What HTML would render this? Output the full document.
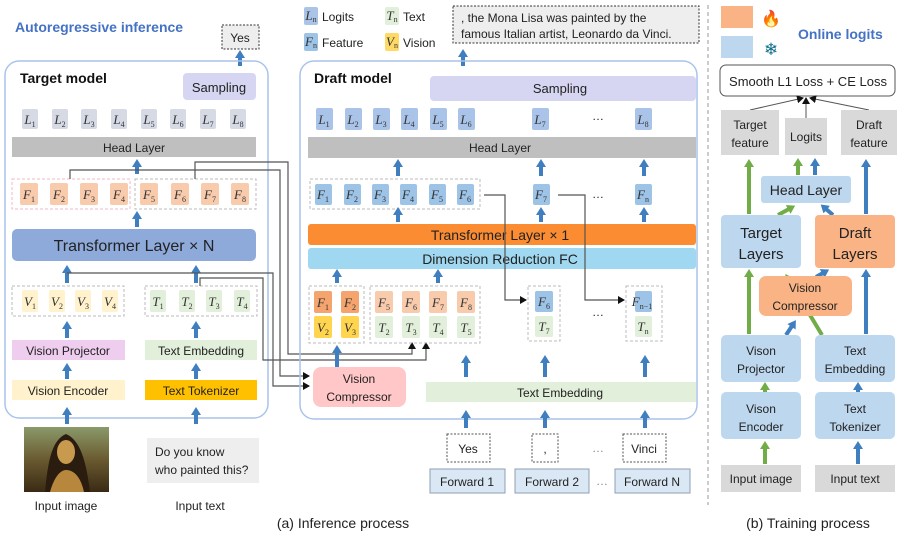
<!DOCTYPE html>
<html><head><meta charset="utf-8"><style>
html,body{margin:0;padding:0;background:#fff}
svg{display:block}
text{font-family:"Liberation Sans",sans-serif;font-size:12px;fill:#222}
.m{font-family:"Liberation Serif",serif;font-style:italic;font-size:13px;text-anchor:middle;fill:#333}
.s{font-style:normal;font-size:8px}
.c{text-anchor:middle}
.ab{stroke:#3f7fc0;stroke-width:4;fill:none}
.ln{stroke:#555;stroke-width:1.2;fill:none}
.dg{fill:none;stroke:#bbb;stroke-dasharray:3,2}
</style></head><body>
<svg width="904" height="538" viewBox="0 0 904 538" xmlns="http://www.w3.org/2000/svg">
<defs>
<marker id="a" markerWidth="12" markerHeight="10" refX="1" refY="5" orient="auto" markerUnits="userSpaceOnUse"><path d="M0,0 L8,5 L0,10z" fill="#3f7fc0"/></marker>
<marker id="g" markerWidth="12" markerHeight="10" refX="1" refY="5" orient="auto" markerUnits="userSpaceOnUse"><path d="M0,0 L8,5 L0,10z" fill="#70ad47"/></marker>
<marker id="k" markerWidth="8" markerHeight="8" refX="6" refY="4" orient="auto" markerUnits="userSpaceOnUse"><path d="M0,0 L7,4 L0,8z" fill="#111"/></marker>
<linearGradient id="ml" x1="0" y1="0" x2="0" y2="1"><stop offset="0" stop-color="#8a9a6a"/><stop offset=".5" stop-color="#6a5a30"/><stop offset="1" stop-color="#3a2a14"/></linearGradient>
</defs>

<!-- ===== LEFT: target model ===== -->
<text x="15" y="32" style="font-size:14px;font-weight:bold;fill:#4472c4">Autoregressive inference</text>
<rect x="222" y="25" width="37" height="24" fill="#eee" stroke="#333" stroke-dasharray="2,1.5"/>
<text x="240" y="42" class="c">Yes</text>
<line x1="240" y1="66" x2="240" y2="57" class="ab" marker-end="url(#a)"/>
<rect x="5" y="61" width="263" height="357" rx="14" fill="none" stroke="#a9c4eb" stroke-width="1.5"/>
<text x="20" y="83" style="font-size:14px;font-weight:bold;fill:#111">Target model</text>
<rect x="183" y="73" width="73" height="27" rx="4" fill="#d6d6f3"/>
<text x="219" y="92" class="c" style="font-size:13px">Sampling</text>
<g fill="#d5dae5">
<rect x="22" y="109" width="16" height="20" rx="2"/><rect x="52" y="109" width="16" height="20" rx="2"/><rect x="81" y="109" width="16" height="20" rx="2"/><rect x="111" y="109" width="16" height="20" rx="2"/><rect x="141" y="109" width="16" height="20" rx="2"/><rect x="170" y="109" width="16" height="20" rx="2"/><rect x="200" y="109" width="16" height="20" rx="2"/><rect x="230" y="109" width="16" height="20" rx="2"/>
</g>
<text x="30" y="124" class="m">L<tspan class="s" dy="3">1</tspan></text><text x="60" y="124" class="m">L<tspan class="s" dy="3">2</tspan></text><text x="89" y="124" class="m">L<tspan class="s" dy="3">3</tspan></text><text x="119" y="124" class="m">L<tspan class="s" dy="3">4</tspan></text><text x="149" y="124" class="m">L<tspan class="s" dy="3">5</tspan></text><text x="178" y="124" class="m">L<tspan class="s" dy="3">6</tspan></text><text x="208" y="124" class="m">L<tspan class="s" dy="3">7</tspan></text><text x="238" y="124" class="m">L<tspan class="s" dy="3">8</tspan></text>
<rect x="12" y="137" width="244" height="20" fill="#bfbfbf"/>
<text x="134" y="152" class="c">Head Layer</text>
<line x1="137" y1="174" x2="137" y2="166" class="ab" marker-end="url(#a)"/>
<rect x="12" y="179" width="118" height="30" fill="none" stroke="#f2b8c6" stroke-dasharray="3,2"/>
<rect x="135" y="179" width="121" height="30" class="dg"/>
<g fill="#f8cbad">
<rect x="20" y="183" width="18" height="22" rx="2"/><rect x="50" y="183" width="18" height="22" rx="2"/><rect x="80" y="183" width="18" height="22" rx="2"/><rect x="110" y="183" width="18" height="22" rx="2"/><rect x="140" y="183" width="18" height="22" rx="2"/><rect x="171" y="183" width="18" height="22" rx="2"/><rect x="201" y="183" width="18" height="22" rx="2"/><rect x="231" y="183" width="18" height="22" rx="2"/>
</g>
<text x="29" y="199" class="m">F<tspan class="s" dy="3">1</tspan></text><text x="59" y="199" class="m">F<tspan class="s" dy="3">2</tspan></text><text x="89" y="199" class="m">F<tspan class="s" dy="3">3</tspan></text><text x="119" y="199" class="m">F<tspan class="s" dy="3">4</tspan></text><text x="149" y="199" class="m">F<tspan class="s" dy="3">5</tspan></text><text x="180" y="199" class="m">F<tspan class="s" dy="3">6</tspan></text><text x="210" y="199" class="m">F<tspan class="s" dy="3">7</tspan></text><text x="240" y="199" class="m">F<tspan class="s" dy="3">8</tspan></text>
<line x1="137" y1="227" x2="137" y2="218" class="ab" marker-end="url(#a)"/>
<rect x="12" y="229" width="244" height="32" rx="5" fill="#8eaadb"/>
<text x="134" y="251" class="c" style="font-size:16px">Transformer Layer × N</text>
<line x1="67" y1="283" x2="67" y2="272" class="ab" marker-end="url(#a)"/>
<line x1="196" y1="283" x2="196" y2="272" class="ab" marker-end="url(#a)"/>
<rect x="12" y="286" width="112" height="30" class="dg"/>
<rect x="145" y="286" width="112" height="30" class="dg"/>
<g fill="#fff2cc"><rect x="22" y="290" width="16" height="22" rx="2"/><rect x="49" y="290" width="16" height="22" rx="2"/><rect x="75" y="290" width="16" height="22" rx="2"/><rect x="102" y="290" width="16" height="22" rx="2"/></g>
<g fill="#e2efda"><rect x="150" y="290" width="16" height="22" rx="2"/><rect x="179" y="290" width="16" height="22" rx="2"/><rect x="206" y="290" width="16" height="22" rx="2"/><rect x="234" y="290" width="16" height="22" rx="2"/></g>
<text x="30" y="306" class="m">V<tspan class="s" dy="3">1</tspan></text><text x="57" y="306" class="m">V<tspan class="s" dy="3">2</tspan></text><text x="83" y="306" class="m">V<tspan class="s" dy="3">3</tspan></text><text x="110" y="306" class="m">V<tspan class="s" dy="3">4</tspan></text>
<text x="158" y="306" class="m">T<tspan class="s" dy="3">1</tspan></text><text x="187" y="306" class="m">T<tspan class="s" dy="3">2</tspan></text><text x="214" y="306" class="m">T<tspan class="s" dy="3">3</tspan></text><text x="242" y="306" class="m">T<tspan class="s" dy="3">4</tspan></text>
<line x1="67" y1="338" x2="67" y2="328" class="ab" marker-end="url(#a)"/>
<line x1="196" y1="338" x2="196" y2="328" class="ab" marker-end="url(#a)"/>
<rect x="12" y="340" width="113" height="20" fill="#efcdee"/><text x="68" y="355" class="c">Vision Projector</text>
<rect x="145" y="340" width="112" height="20" fill="#e2efda"/><text x="201" y="355" class="c">Text Embedding</text>
<line x1="67" y1="379" x2="67" y2="370" class="ab" marker-end="url(#a)"/>
<line x1="196" y1="379" x2="196" y2="370" class="ab" marker-end="url(#a)"/>
<rect x="12" y="380" width="113" height="20" fill="#fff2cc"/><text x="68" y="395" class="c">Vision Encoder</text>
<rect x="145" y="380" width="112" height="20" fill="#ffc000"/><text x="201" y="395" class="c">Text Tokenizer</text>
<line x1="67" y1="424" x2="67" y2="414" class="ab" marker-end="url(#a)"/>
<line x1="196" y1="424" x2="196" y2="414" class="ab" marker-end="url(#a)"/>
<!-- Mona Lisa -->
<rect x="24" y="427" width="85" height="65" fill="url(#ml)"/>
<path d="M45,492 C48,460 52,440 66,434 C80,440 86,460 90,492z" fill="#2a1c0e"/>
<ellipse cx="66" cy="452" rx="9" ry="12" fill="#c79a4e"/>
<path d="M50,492 C55,474 62,470 66,470 C72,470 80,474 84,492z" fill="#b8873e"/>
<rect x="147" y="438" width="112" height="45" fill="#eee"/>
<text x="155" y="456">Do you know</text><text x="155" y="474">who painted this?</text>
<text x="66" y="510" class="c">Input image</text>
<text x="200" y="510" class="c">Input text</text>
<text x="343" y="528" class="c" style="font-size:14px">(a) Inference process</text>

<!-- connectors -->
<polyline points="70,179 70,170 280,170 280,376 309,376" class="ln" marker-end="url(#k)"/>
<polyline points="195,179 195,162 288,162 288,354 412,354 412,343" class="ln" marker-end="url(#k)"/>
<polyline points="200,286 200,278 263,278 263,360 426,360 426,343" class="ln" marker-end="url(#k)"/>
<polyline points="67,273 273,273 273,386 309,386" class="ln" marker-end="url(#k)"/>

<!-- ===== DRAFT MODEL ===== -->
<rect x="304" y="7" width="14" height="18" rx="2" fill="#aac4e8"/><text x="311" y="20" class="m">L<tspan class="s" dy="2">n</tspan></text>
<text x="322" y="21">Logits</text>
<rect x="385" y="7" width="14" height="18" rx="2" fill="#e2efda"/><text x="392" y="20" class="m">T<tspan class="s" dy="2">n</tspan></text>
<text x="403" y="21">Text</text>
<rect x="304" y="33" width="14" height="18" rx="2" fill="#9dc3e6"/><text x="311" y="46" class="m">F<tspan class="s" dy="2">n</tspan></text>
<text x="322" y="47">Feature</text>
<rect x="385" y="33" width="14" height="18" rx="2" fill="#ffd966"/><text x="392" y="46" class="m">V<tspan class="s" dy="2">n</tspan></text>
<text x="403" y="47">Vision</text>
<rect x="453" y="6" width="246" height="37" fill="#eee" stroke="#333" stroke-dasharray="2,1.5"/>
<text x="461" y="22">, the Mona Lisa was painted by the</text>
<text x="461" y="38">famous Italian artist, Leonardo da Vinci.</text>
<line x1="463" y1="66" x2="463" y2="56" class="ab" marker-end="url(#a)"/>
<rect x="300" y="61" width="397" height="358" rx="14" fill="none" stroke="#a9c4eb" stroke-width="1.5"/>
<text x="314" y="83" style="font-size:14px;font-weight:bold;fill:#111">Draft model</text>
<rect x="430" y="76" width="266" height="25" rx="4" fill="#d6d6f3"/>
<text x="560" y="93" class="c" style="font-size:13px">Sampling</text>
<g fill="#a9c4e8">
<rect x="316" y="108" width="17" height="22" rx="2"/><rect x="345" y="108" width="17" height="22" rx="2"/><rect x="373" y="108" width="17" height="22" rx="2"/><rect x="401" y="108" width="17" height="22" rx="2"/><rect x="430" y="108" width="17" height="22" rx="2"/><rect x="458" y="108" width="17" height="22" rx="2"/><rect x="532" y="108" width="17" height="22" rx="2"/><rect x="635" y="108" width="17" height="22" rx="2"/>
</g>
<text x="324" y="124" class="m">L<tspan class="s" dy="3">1</tspan></text><text x="353" y="124" class="m">L<tspan class="s" dy="3">2</tspan></text><text x="381" y="124" class="m">L<tspan class="s" dy="3">3</tspan></text><text x="409" y="124" class="m">L<tspan class="s" dy="3">4</tspan></text><text x="438" y="124" class="m">L<tspan class="s" dy="3">5</tspan></text><text x="466" y="124" class="m">L<tspan class="s" dy="3">6</tspan></text><text x="540" y="124" class="m">L<tspan class="s" dy="3">7</tspan></text><text x="643" y="124" class="m">L<tspan class="s" dy="3">8</tspan></text>
<text x="598" y="120" class="c">…</text>
<rect x="308" y="137" width="388" height="21" fill="#bfbfbf"/>
<text x="500" y="152" class="c">Head Layer</text>
<line x1="398" y1="176" x2="398" y2="166" class="ab" marker-end="url(#a)"/>
<line x1="541" y1="176" x2="541" y2="166" class="ab" marker-end="url(#a)"/>
<line x1="644" y1="176" x2="644" y2="166" class="ab" marker-end="url(#a)"/>
<rect x="310" y="179" width="170" height="30" class="dg"/>
<g fill="#9dc3e6">
<rect x="315" y="184" width="17" height="21" rx="2"/><rect x="344" y="184" width="17" height="21" rx="2"/><rect x="372" y="184" width="17" height="21" rx="2"/><rect x="400" y="184" width="17" height="21" rx="2"/><rect x="429" y="184" width="17" height="21" rx="2"/><rect x="457" y="184" width="17" height="21" rx="2"/><rect x="533" y="184" width="17" height="21" rx="2"/><rect x="635" y="184" width="17" height="21" rx="2"/>
</g>
<text x="323" y="199" class="m">F<tspan class="s" dy="3">1</tspan></text><text x="352" y="199" class="m">F<tspan class="s" dy="3">2</tspan></text><text x="380" y="199" class="m">F<tspan class="s" dy="3">3</tspan></text><text x="408" y="199" class="m">F<tspan class="s" dy="3">4</tspan></text><text x="437" y="199" class="m">F<tspan class="s" dy="3">5</tspan></text><text x="465" y="199" class="m">F<tspan class="s" dy="3">6</tspan></text><text x="541" y="199" class="m">F<tspan class="s" dy="3">7</tspan></text><text x="643" y="199" class="m">F<tspan class="s" dy="3">n</tspan></text>
<text x="598" y="198" class="c">…</text>
<line x1="398" y1="222" x2="398" y2="214" class="ab" marker-end="url(#a)"/>
<line x1="541" y1="222" x2="541" y2="214" class="ab" marker-end="url(#a)"/>
<line x1="644" y1="222" x2="644" y2="214" class="ab" marker-end="url(#a)"/>
<rect x="308" y="224" width="388" height="21" rx="3" fill="#fb8c32"/>
<text x="500" y="240" class="c" style="font-size:14px">Transformer Layer × 1</text>
<rect x="308" y="248" width="388" height="21" rx="3" fill="#9fd8f0"/>
<text x="500" y="264" class="c" style="font-size:14px">Dimension Reduction FC</text>
<polyline points="484,195 505,195 505,300 526,300" class="ln" marker-end="url(#k)"/>
<polyline points="558,195 585,195 585,300 624,300" class="ln" marker-end="url(#k)"/>
<line x1="337" y1="283" x2="337" y2="276" class="ab" marker-end="url(#a)"/>
<line x1="438" y1="283" x2="438" y2="276" class="ab" marker-end="url(#a)"/>
<rect x="309" y="286" width="55" height="57" class="dg"/>
<rect x="370" y="286" width="110" height="57" class="dg"/>
<g fill="#f4a46c"><rect x="314" y="291" width="18" height="22" rx="2"/><rect x="341" y="291" width="18" height="22" rx="2"/></g>
<g fill="#ffd54f"><rect x="314" y="316" width="18" height="22" rx="2"/><rect x="341" y="316" width="18" height="22" rx="2"/></g>
<g fill="#f8cbad"><rect x="375" y="291" width="18" height="22" rx="2"/><rect x="402" y="291" width="18" height="22" rx="2"/><rect x="429" y="291" width="18" height="22" rx="2"/><rect x="457" y="291" width="18" height="22" rx="2"/></g>
<g fill="#e2efda"><rect x="375" y="316" width="18" height="22" rx="2"/><rect x="402" y="316" width="18" height="22" rx="2"/><rect x="429" y="316" width="18" height="22" rx="2"/><rect x="457" y="316" width="18" height="22" rx="2"/></g>
<text x="323" y="307" class="m">F<tspan class="s" dy="3">1</tspan></text><text x="350" y="307" class="m">F<tspan class="s" dy="3">2</tspan></text>
<text x="323" y="332" class="m">V<tspan class="s" dy="3">2</tspan></text><text x="350" y="332" class="m">V<tspan class="s" dy="3">3</tspan></text>
<text x="384" y="307" class="m">F<tspan class="s" dy="3">5</tspan></text><text x="411" y="307" class="m">F<tspan class="s" dy="3">6</tspan></text><text x="438" y="307" class="m">F<tspan class="s" dy="3">7</tspan></text><text x="466" y="307" class="m">F<tspan class="s" dy="3">8</tspan></text>
<text x="384" y="332" class="m">T<tspan class="s" dy="3">2</tspan></text><text x="411" y="332" class="m">T<tspan class="s" dy="3">3</tspan></text><text x="438" y="332" class="m">T<tspan class="s" dy="3">4</tspan></text><text x="466" y="332" class="m">T<tspan class="s" dy="3">5</tspan></text>
<rect x="528" y="286" width="32" height="55" class="dg"/>
<rect x="535" y="291" width="18" height="21" rx="2" fill="#9dc3e6"/><rect x="535" y="316" width="18" height="21" rx="2" fill="#e2efda"/>
<text x="544" y="306" class="m">F<tspan class="s" dy="3">6</tspan></text><text x="544" y="331" class="m">T<tspan class="s" dy="3">7</tspan></text>
<rect x="626" y="286" width="36" height="55" class="dg"/>
<rect x="635" y="291" width="17" height="21" rx="2" fill="#9dc3e6"/><rect x="635" y="316" width="17" height="21" rx="2" fill="#e2efda"/>
<text x="642" y="306" class="m">F<tspan class="s" dy="3">n−1</tspan></text><text x="643" y="331" class="m">T<tspan class="s" dy="3">n</tspan></text>
<text x="598" y="316" class="c">…</text>
<line x1="337" y1="367" x2="337" y2="352" class="ab" marker-end="url(#a)"/>
<rect x="313" y="367" width="93" height="40" rx="8" fill="#ffc7c7"/>
<text x="359" y="383" class="c">Vision</text><text x="359" y="401" class="c">Compressor</text>
<line x1="466" y1="377" x2="466" y2="362" class="ab" marker-end="url(#a)"/>
<line x1="545" y1="377" x2="545" y2="362" class="ab" marker-end="url(#a)"/>
<line x1="645" y1="377" x2="645" y2="362" class="ab" marker-end="url(#a)"/>
<rect x="426" y="382" width="270" height="20" fill="#e2efda"/>
<text x="560" y="397" class="c">Text Embedding</text>
<line x1="466" y1="428" x2="466" y2="417" class="ab" marker-end="url(#a)"/>
<line x1="545" y1="428" x2="545" y2="417" class="ab" marker-end="url(#a)"/>
<line x1="645" y1="428" x2="645" y2="417" class="ab" marker-end="url(#a)"/>
<g fill="#fff" stroke="#555" stroke-dasharray="2,1.5">
<rect x="447" y="434" width="43" height="28"/><rect x="532" y="434" width="26" height="28"/><rect x="623" y="434" width="43" height="28"/></g>
<text x="468" y="453" class="c">Yes</text><text x="545" y="453" class="c">,</text><text x="644" y="453" class="c">Vinci</text>
<text x="598" y="452" class="c" style="fill:#888">…</text>
<g fill="#dae8f5" stroke="#8fa0b5"><rect x="430" y="469" width="75" height="24"/><rect x="515" y="469" width="74" height="24"/><rect x="615" y="469" width="75" height="24"/></g>
<text x="467" y="486" class="c">Forward 1</text><text x="552" y="486" class="c">Forward 2</text><text x="652" y="486" class="c">Forward N</text>
<text x="602" y="485" class="c" style="fill:#888">…</text>

<!-- separator -->
<line x1="708" y1="5" x2="708" y2="505" stroke="#999" stroke-dasharray="4,3"/>

<!-- ===== TRAINING ===== -->
<rect x="721" y="6" width="32" height="22" fill="#f9b384"/>
<text x="771" y="24" class="c" style="font-size:16px;fill:#e8561c">🔥</text>
<rect x="721" y="36" width="32" height="22" fill="#bdd7ee"/>
<text x="771" y="55" class="c" style="font-size:17px;fill:#0a6e8a">❄</text>
<text x="798" y="39" style="font-size:14px;font-weight:bold;fill:#4472c4">Online logits</text>
<rect x="720" y="65" width="175" height="31" rx="6" fill="#fff" stroke="#555"/>
<text x="808" y="86" class="c" style="font-size:13px">Smooth L1 Loss + CE Loss</text>
<line x1="750" y1="110" x2="803" y2="98" stroke="#555" marker-end="url(#k)"/>
<line x1="806" y1="124" x2="806" y2="98" stroke="#555" marker-end="url(#k)"/>
<line x1="869" y1="110" x2="810" y2="98" stroke="#555" marker-end="url(#k)"/>
<g fill="#d9d9d9"><rect x="721" y="110" width="58" height="45"/><rect x="785" y="118" width="42" height="37"/><rect x="841" y="110" width="56" height="45"/></g>
<text x="750" y="129" class="c">Target</text><text x="750" y="147" class="c">feature</text>
<text x="806" y="141" class="c">Logits</text>
<text x="869" y="129" class="c">Draft</text><text x="869" y="147" class="c">feature</text>
<g stroke-width="4" fill="none">
<line x1="749" y1="214" x2="749" y2="166" stroke="#70ad47" marker-end="url(#g)"/>
<line x1="798" y1="175" x2="798" y2="165" stroke="#70ad47" marker-end="url(#g)"/>
<line x1="815" y1="175" x2="815" y2="165" stroke="#3f7fc0" marker-end="url(#a)"/>
<line x1="866" y1="214" x2="866" y2="166" stroke="#3f7fc0" marker-end="url(#a)"/>
<line x1="778" y1="215" x2="789" y2="209" stroke="#70ad47" marker-end="url(#g)"/>
<line x1="833" y1="215" x2="826" y2="209" stroke="#3f7fc0" marker-end="url(#a)"/>
<line x1="749" y1="334" x2="749" y2="276" stroke="#70ad47" marker-end="url(#g)"/>
<line x1="866" y1="334" x2="866" y2="276" stroke="#3f7fc0" marker-end="url(#a)"/>
<line x1="822" y1="335" x2="789" y2="280" stroke="#70ad47" marker-end="url(#g)"/>
<line x1="816" y1="277" x2="823" y2="273" stroke="#3f7fc0" marker-end="url(#a)"/>
<line x1="786" y1="335" x2="792" y2="326" stroke="#3f7fc0" marker-end="url(#a)"/>
<line x1="765" y1="392" x2="765" y2="389" stroke="#70ad47" marker-end="url(#g)"/>
<line x1="858" y1="392" x2="858" y2="389" stroke="#3f7fc0" marker-end="url(#a)"/>
<line x1="765" y1="464" x2="765" y2="448" stroke="#70ad47" marker-end="url(#g)"/>
<line x1="858" y1="464" x2="858" y2="448" stroke="#3f7fc0" marker-end="url(#a)"/>
</g>
<rect x="761" y="176" width="90" height="27" rx="3" fill="#bdd7ee"/>
<text x="806" y="195" class="c" style="font-size:14px">Head Layer</text>
<rect x="721" y="215" width="80" height="53" rx="4" fill="#bdd7ee"/>
<text x="761" y="238" class="c" style="font-size:15px">Target</text><text x="761" y="259" class="c" style="font-size:15px">Layers</text>
<rect x="815" y="215" width="80" height="53" rx="4" fill="#f9b384"/>
<text x="855" y="238" class="c" style="font-size:15px">Draft</text><text x="855" y="259" class="c" style="font-size:15px">Layers</text>
<rect x="759" y="276" width="93" height="40" rx="7" fill="#f9b384"/>
<text x="805" y="292" class="c">Vision</text><text x="805" y="310" class="c">Compressor</text>
<g fill="#bdd7ee"><rect x="721" y="335" width="80" height="47" rx="5"/><rect x="815" y="335" width="80" height="47" rx="5"/><rect x="721" y="392" width="80" height="47" rx="5"/><rect x="815" y="392" width="80" height="47" rx="5"/></g>
<text x="761" y="355" class="c">Vison</text><text x="761" y="373" class="c">Projector</text>
<text x="855" y="355" class="c">Text</text><text x="855" y="373" class="c">Embedding</text>
<text x="761" y="413" class="c">Vison</text><text x="761" y="431" class="c">Encoder</text>
<text x="855" y="413" class="c">Text</text><text x="855" y="431" class="c">Tokenizer</text>
<g fill="#d9d9d9"><rect x="721" y="465" width="80" height="27"/><rect x="815" y="465" width="80" height="27"/></g>
<text x="761" y="483" class="c">Input image</text><text x="855" y="483" class="c">Input text</text>
<text x="808" y="528" class="c" style="font-size:14px">(b) Training process</text>
</svg>
</body></html>
